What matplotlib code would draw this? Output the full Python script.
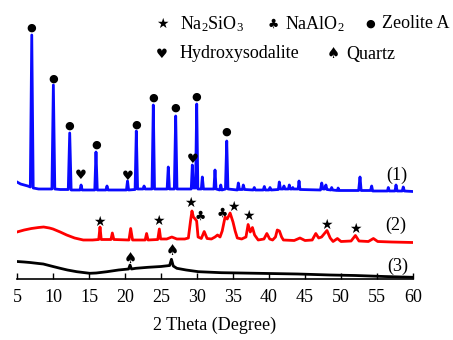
import matplotlib
matplotlib.use("Agg")
import matplotlib.pyplot as plt

plt.rcParams['font.family'] = 'Liberation Serif'
plt.rcParams['mathtext.fontset'] = 'custom'
plt.rcParams['mathtext.rm'] = 'Liberation Serif'
plt.rcParams['mathtext.it'] = 'Liberation Serif:italic'

# pattern (1) - blue
tt1 = [5.0, 5.5, 6.0, 6.5, 6.85, 7.05, 7.25, 8.0, 9.0, 9.85, 10.05, 10.25, 11.0,
       12.12, 12.32, 12.52, 13.75, 13.9, 14.05, 15.8, 15.97, 16.15, 17.35, 17.5, 17.65,
       20.2, 20.35, 20.5, 21.4, 21.57, 21.75, 22.5, 22.65, 22.8, 23.75, 23.93, 24.1,
       25.85, 26.01, 26.17, 26.85, 27.04, 27.22, 29.2, 29.35, 29.5, 29.8, 29.96, 30.12,
       30.6, 30.74, 30.9, 32.35, 32.5, 32.65, 33.15, 33.3, 33.45, 33.95, 34.13, 34.3,
       35.6, 35.74, 35.9, 36.3, 36.43, 36.6, 37.8, 37.96, 38.1, 39.2, 39.35, 39.5,
       40.0, 40.14, 40.3, 41.3, 41.43, 41.6, 41.95, 42.08, 42.2, 42.7, 42.82, 42.95,
       43.2, 43.3, 43.4, 44.05, 44.17, 44.3, 47.15, 47.32, 47.5, 47.75, 47.9, 48.05,
       48.6, 48.7, 48.85, 49.5, 49.6, 49.75, 52.45, 52.64, 52.8, 54.1, 54.26, 54.4,
       56.45, 56.57, 56.7, 57.5, 57.64, 57.8, 58.5, 58.65, 58.8, 60.0]
int1 = [97, 95, 94, 93, 92, 244, 91, 90, 90, 90, 194, 90, 89.5,
        89.5, 146, 89, 89, 94, 89, 89, 127, 89, 89, 93, 89,
        89, 98, 89, 89.5, 148, 90, 90, 93, 90, 90, 174, 90,
        90, 112, 90, 90, 163, 90, 90, 114, 91, 91, 175, 90,
        90, 102, 90, 90, 109, 90, 89, 94, 89, 90, 138, 90,
        89, 96, 89.5, 89.5, 94, 89.5, 89, 91.5, 89, 89, 92.5, 89,
        89, 91.5, 89, 89.5, 97, 90, 90, 93, 90, 90, 94, 90,
        90, 91.5, 90, 90, 98, 89.5, 89, 96, 90, 90, 94, 89.5,
        89, 91.5, 89, 88.5, 91, 88.5, 88.5, 102, 88.5, 88.5, 93, 88,
        88, 91.5, 88, 88, 94, 88, 88, 92, 88, 87.5]

# pattern (2) - red
tt2 = [5.0, 6.0, 7.0, 8.0, 8.7, 9.5, 10.0, 11.0, 11.9, 13.0, 14.2, 15.5, 16.35, 16.53,
       16.7, 18.05, 18.24, 18.45, 20.55, 20.79, 21.05, 22.8, 23.0, 23.2, 24.55, 24.77,
       24.95, 25.8, 26.5, 27.2, 28.3, 28.8, 29.1, 29.3, 29.5, 29.75, 29.95, 30.15, 30.6,
       31.0, 31.4, 32.0, 32.5, 32.85, 33.2, 33.5, 33.9, 34.2, 34.6, 35.0, 35.3, 35.6,
       36.2, 36.8, 37.1, 37.4, 37.7, 38.0, 38.5, 39.3, 39.7, 40.1, 40.5, 40.9, 41.15,
       41.45, 41.75, 42.0, 43.5, 44.3, 45.0, 46.0, 46.5, 46.9, 47.3, 48.05, 48.5, 48.9,
       49.5, 50.0, 51.4, 52.0, 52.5, 53.8, 54.5, 55.1, 57.0, 60.0]
int2 = [47, 49, 50.5, 51.5, 52, 51, 50, 47, 44, 41, 39, 39, 39.5, 52,
        39.5, 39.5, 46, 39.5, 39, 50.5, 39, 39, 45.5, 39, 39.5, 50,
        40, 40, 42, 40, 40, 41, 58, 68, 62, 60, 58, 42, 40.5,
        47.5, 40.5, 40, 42, 44, 42, 48, 62, 60, 66, 57, 48, 41,
        40, 42, 54.5, 47, 51.5, 44, 39, 40, 45.5, 40, 39, 42, 49,
        48, 42, 39, 38.5, 41, 38.5, 39, 45.5, 41, 42, 48.5, 41, 37.5,
        40.5, 37.5, 38, 43.5, 38, 37.5, 40.5, 37.5, 37, 36.5]

# pattern (3) - black
tt3 = [5.0, 6.0, 6.8, 8.0, 8.65, 10.0, 11.0, 12.0, 13.3, 15.1, 16.0, 17.5, 19.1, 20.5,
       20.7, 20.9, 21.5, 23.2, 25.0, 26.2, 26.45, 26.7, 27.2, 28.5, 30.2, 33.4, 36.0,
       40.0, 44.0, 48.5, 52.0, 56.0, 60.0]
int3 = [17.5, 17, 16.5, 15.5, 15, 12.5, 10.7, 9, 7.3, 5.7, 6, 7.3, 9, 10,
        14, 10, 10.7, 11.7, 12.5, 13.5, 19.7, 13, 10.7, 9, 7.3, 6.3, 6,
        5.5, 5, 4, 3.5, 2.5, 1.7]

# phase markers
zeolite_x = [7.04, 10.05, 12.32, 15.97, 21.57, 23.93, 27.04, 29.96, 34.13]
zeolite_y = [251.7, 200.3, 153.7, 134.7, 154.7, 181.7, 171.3, 182.3, 147.3]
sodalite_x = [13.89, 20.35, 29.35]
sodalite_y = [103.7, 103, 119.7]
silicate_x = [16.4, 24.6, 29.07, 35.05, 37.13, 48.0, 51.94]
silicate_y = [57.3, 58, 75.7, 72.3, 63, 54, 49.7]
aluminate_x = [30.42, 33.45]
aluminate_y = [63, 66]
quartz_x = [20.69, 26.63]
quartz_y = [20.7, 28.3]

fig = plt.figure(figsize=(4.53, 3.40), dpi=100)
ax = fig.add_axes([17 / 453, 61 / 340, 396 / 453, 279 / 340])

ax.plot(tt1, int1, color='#0a0aff', lw=2.0)
ax.plot(tt2, int2, color='#ff0000', lw=2.0)
ax.plot(tt3, int3, color='black', lw=2.0)

sym = dict(ha='center', va='center', family='DejaVu Sans', color='black')
for x, y in zip(zeolite_x, zeolite_y):
    ax.text(x, y, '\u25cf', fontsize=8, **sym)
for x, y in zip(sodalite_x, sodalite_y):
    ax.text(x, y, '\u2665', fontsize=9.5, **sym)
for x, y in zip(silicate_x, silicate_y):
    ax.text(x, y, '\u2605', fontsize=10, **sym)
for x, y in zip(aluminate_x, aluminate_y):
    ax.text(x, y, '\u2663', fontsize=9, **sym)
for x, y in zip(quartz_x, quartz_y):
    ax.text(x, y, '\u2660', fontsize=10.5, **sym)

ax.text(57.8, 104, '(1)', fontsize=13, ha='center', va='center')
ax.text(57.6, 54, '(2)', fontsize=13, ha='center', va='center')
ax.text(57.9, 12.3, '(3)', fontsize=13, ha='center', va='center')

# legend drawn as text
fig.text(162 / 453, 1 - 24 / 340, '\u2605', fontsize=10, **sym)
fig.text(180 / 453, 1 - 24 / 340, 'Na$_2$SiO$_3$', fontsize=13, va='center')
fig.text(273 / 453, 1 - 24 / 340, '\u2663', fontsize=9, **sym)
fig.text(285 / 453, 1 - 24 / 340, 'NaAlO$_2$', fontsize=13, va='center')
fig.text(370.7 / 453, 1 - 24 / 340, '\u25cf', fontsize=8, **sym)
fig.text(381.7 / 453, 1 - 24 / 340, 'Zeolite A', fontsize=13, va='center')
fig.text(162 / 453, 1 - 54 / 340, '\u2665', fontsize=9.5, **sym)
fig.text(180 / 453, 1 - 54 / 340, 'Hydroxysodalite', fontsize=13, va='center')
fig.text(333 / 453, 1 - 54 / 340, '\u2660', fontsize=10.5, **sym)
fig.text(346 / 453, 1 - 54 / 340, 'Quartz', fontsize=13, va='center')

ax.set_xlim(5, 60)
ax.set_ylim(0, 279)
ax.set_xticks(range(5, 61, 5))
ax.set_yticks([])
for s in ['left', 'right', 'top']:
    ax.spines[s].set_visible(False)
ax.spines['bottom'].set_linewidth(1.2)
ax.tick_params(axis='x', direction='in', length=4, width=1, labelsize=13, pad=7)
ax.set_xlabel('2 Theta (Degree)', fontsize=13, labelpad=8)
ax.patch.set_alpha(0)

fig.savefig('out.png', dpi=100)
